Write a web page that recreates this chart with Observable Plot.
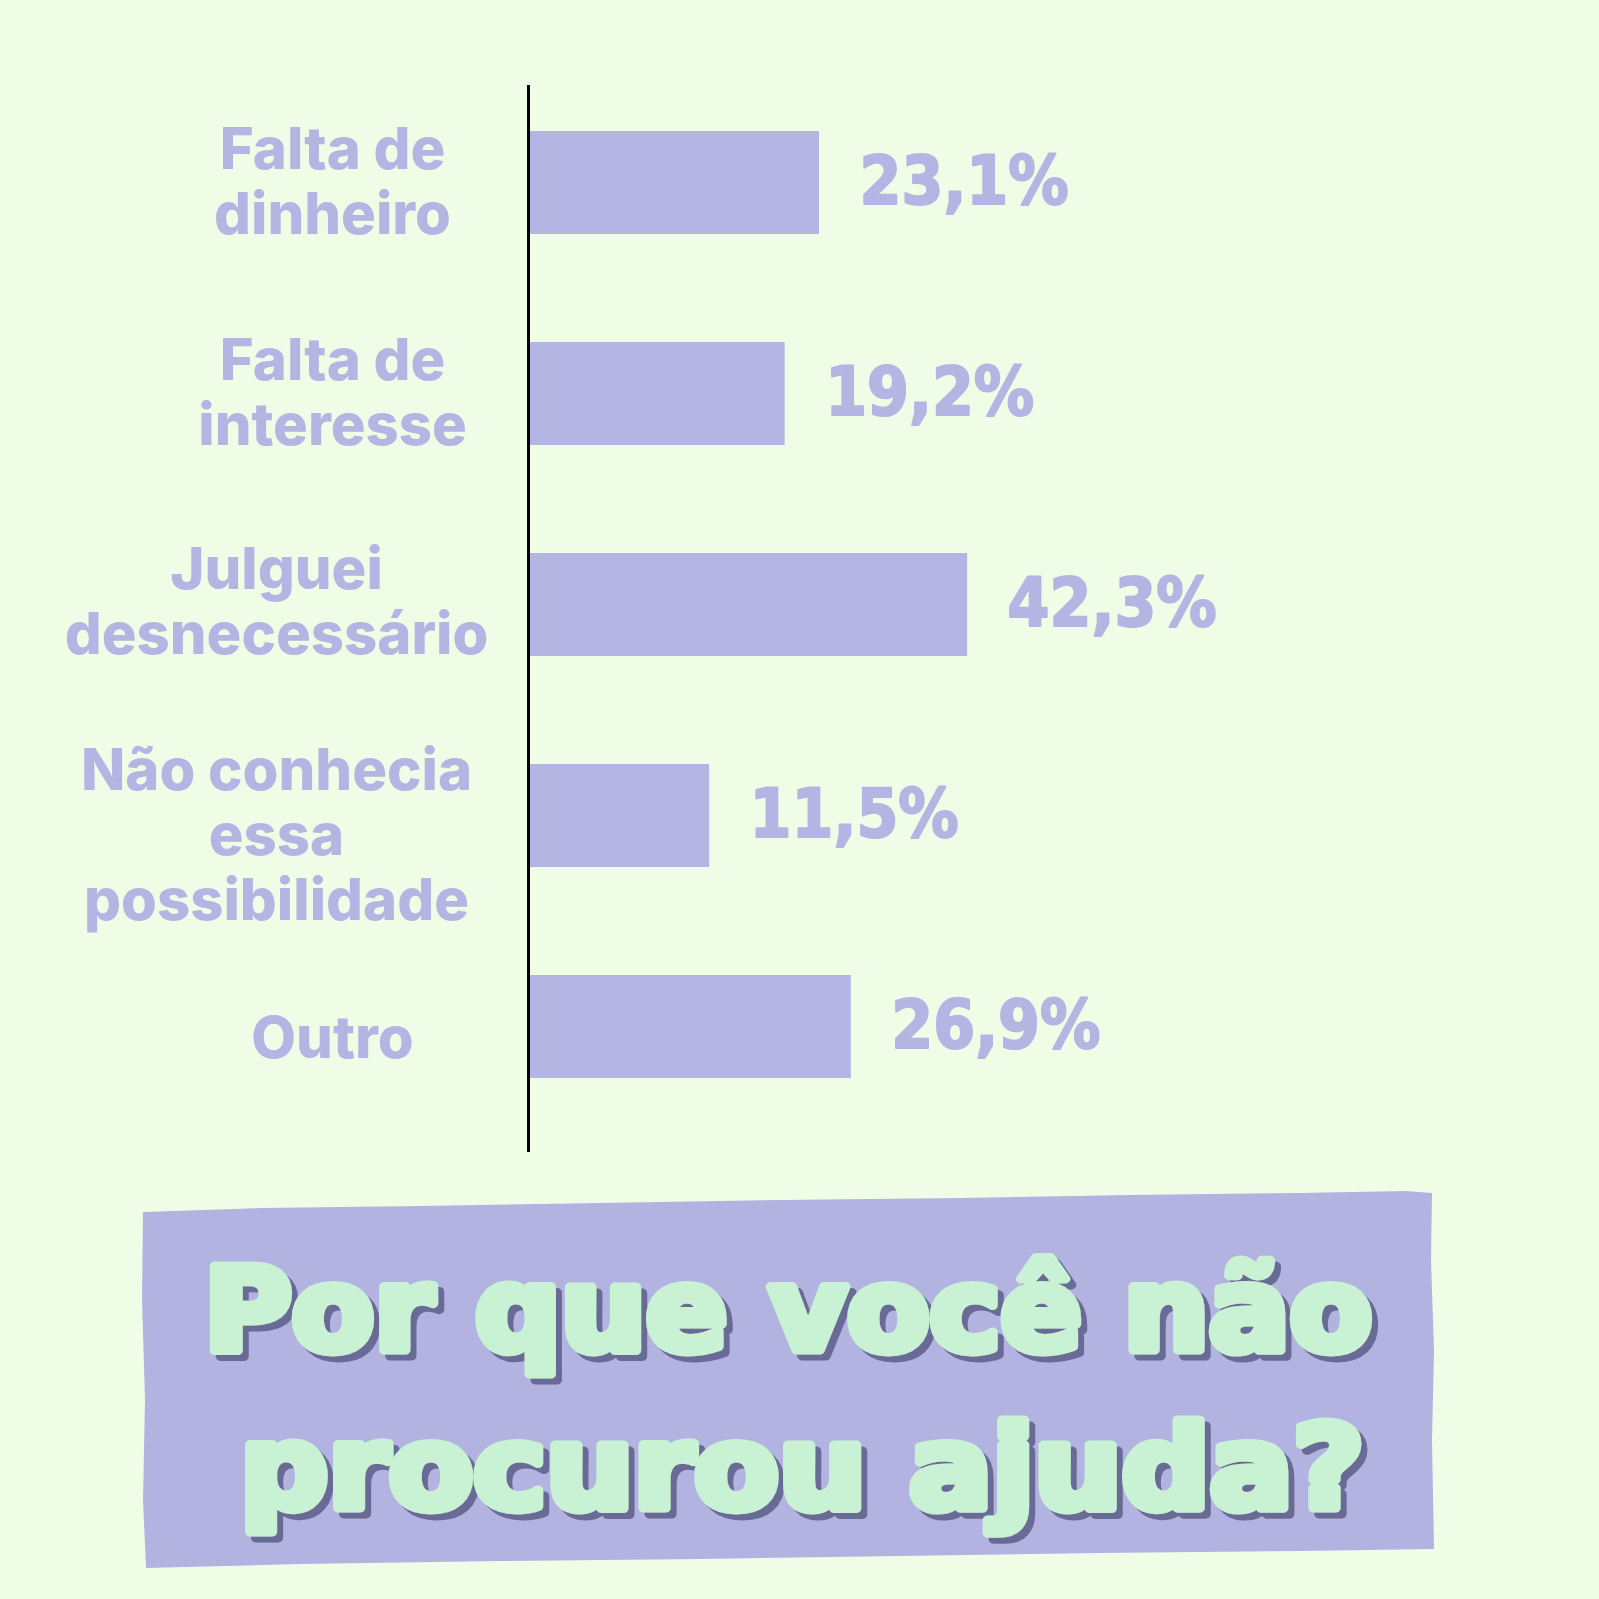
<!DOCTYPE html>
<html>
<head>
<meta charset="utf-8">
<script src="https://cdn.jsdelivr.net/npm/d3@7"></script>
<script src="https://cdn.jsdelivr.net/npm/@observablehq/plot@0.6"></script>
<style>
  html, body { margin: 0; padding: 0; background: #f0fde6; }
  #wrap { width: 1599px; height: 1599px; position: relative; overflow: hidden; background: #f0fde6; }
  #chart svg { display: block; }
  #title { display: block; }
</style>
</head>
<body>
<div id="wrap">
  <div id="chart"></div>
  <svg id="title" width="1599" height="434" viewBox="0 1165 1599 434">
    <defs>
      <filter id="shadow" x="-5%" y="-20%" width="110%" height="140%">
        <feOffset in="SourceAlpha" dx="6" dy="6" result="off"/>
        <feFlood flood-color="#6b6b96" result="col"/>
        <feComposite in="col" in2="off" operator="in" result="sh"/>
        <feMerge><feMergeNode in="sh"/><feMergeNode in="SourceGraphic"/></feMerge>
      </filter>
    </defs>
    <path d="M143,1212 L260,1208 L420,1206 L600,1203 L780,1200 L960,1198 L1130,1195 L1300,1193 L1405,1191 L1432,1193 L1431,1260 L1434,1350 L1432,1440 L1434,1549 L1300,1551 L1100,1553 L900,1556 L700,1559 L500,1561 L300,1564 L146,1568 L143,1500 L145,1400 L142,1300 Z" fill="#b3b3e2"/>
    <g font-family="DejaVu Sans Condensed, DejaVu Sans" font-weight="700" font-size="116" stroke-linejoin="round" fill="#c9f2d5" stroke="#c9f2d5" stroke-width="9" filter="url(#shadow)">
      <text x="204" y="1350" textLength="1168" lengthAdjust="spacingAndGlyphs">Por que você não</text>
      <text x="240" y="1508" textLength="1124" lengthAdjust="spacingAndGlyphs">procurou ajuda?</text>
    </g>
  </svg>
</div>
<script>
// ---- data ----
const categories = [
  "Falta de dinheiro",
  "Falta de interesse",
  "Julguei desnecessário",
  "Não conhecia essa possibilidade",
  "Outro"
];
const categoryLabels = [
  "Falta de\ndinheiro",
  "Falta de\ninteresse",
  "Julguei\ndesnecessário",
  "Não conhecia\nessa\npossibilidade",
  "Outro"
];
const values = [23.1, 19.2, 42.3, 11.5, 26.9];
const valueLabels = ["23,1%", "19,2%", "42,3%", "11,5%", "26,9%"];

const data = categories.map((c, i) => ({
  category: c,
  label: categoryLabels[i],
  value: values[i],
  valueLabel: valueLabels[i]
}));

const purple = "#b4b5e3";

// label placement tweaks (style only)
const labelStyle = {
  textAnchor: "middle", lineHeight: 1.12,
  fontSize: 58, fontWeight: 800, fontFamily: "Inter",
  fill: purple, ariaLabel: "catlabel"
};
const labelMark = (cats, dx, dy) =>
  Plot.text(data.filter(d => cats.includes(d.category)), {
    x: 0, y: "category", text: "label", dx, dy, ...labelStyle
  });

const chart = Plot.plot({
  width: 1599,
  height: 1165,
  marginTop: 85,
  marginBottom: 13,
  marginLeft: 528,
  marginRight: 579,
  style: { background: "transparent" },
  x: { type: "pow", exponent: 0.68, domain: [0, 50], range: [528, 1020], axis: null },
  y: { domain: categories, range: [21.7, 1187.6], padding: 0.51, axis: null },
  marks: [
    Plot.barX(data, { x1: 0, x2: "value", y: "category", fill: purple }),
    Plot.ruleX([0], { stroke: "#000", strokeWidth: 3 }),
    labelMark(["Falta de dinheiro", "Falta de interesse"], -196, -2),
    labelMark(["Outro"], -196, 10),
    labelMark(["Julguei desnecessário"], -252, -4),
    labelMark(["Não conhecia essa possibilidade"], -252, 18),
    Plot.text(data, {
      x: "value", y: "category", text: "valueLabel", dx: 40,
      textAnchor: "start",
      fontSize: 67, fontWeight: 700, fontFamily: "DejaVu Sans Condensed",
      fill: purple, stroke: purple, strokeWidth: 2, ariaLabel: "valuelabel"
    })
  ]
});
document.getElementById("chart").appendChild(chart);
d3.select(chart).selectAll('g[aria-label="catlabel"]').style("letter-spacing", "3px");
</script>
</body>
</html>
